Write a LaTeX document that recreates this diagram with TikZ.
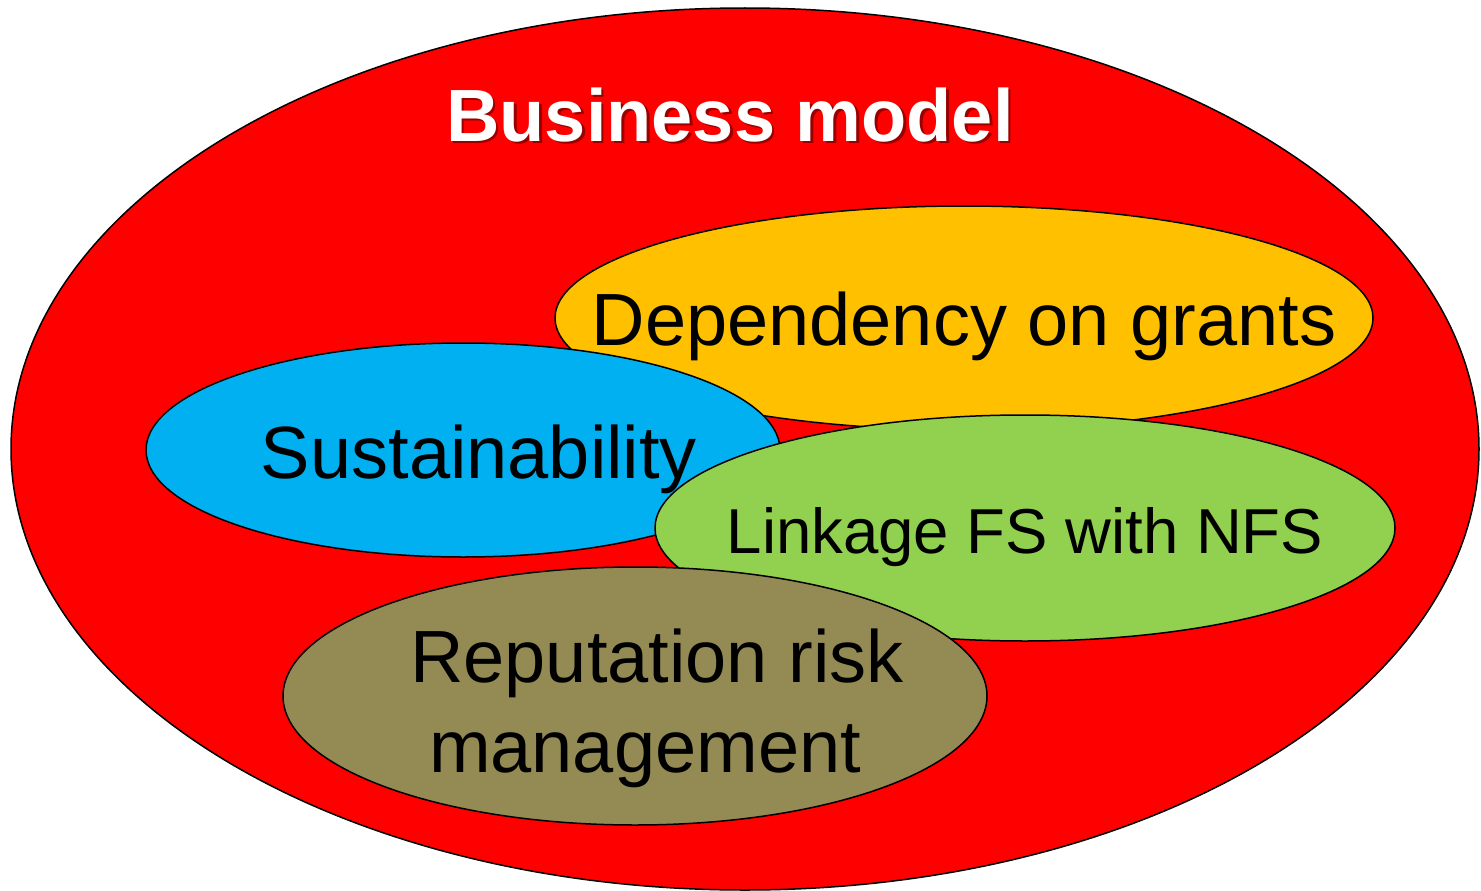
\documentclass[tikz,border=0pt]{standalone}
\usepackage{fontspec}
\setmainfont{Liberation Sans}
\usetikzlibrary{shapes.geometric}
\definecolor{bmred}{HTML}{FF0000}
\definecolor{grantorange}{HTML}{FFC000}
\definecolor{sustblue}{HTML}{00B0F0}
\definecolor{linkgreen}{HTML}{92D050}
\definecolor{repolive}{HTML}{948A54}
\colorlet{titleshadow}{bmred!60!black}
% title with a soft drop shadow set in the same box
\newcommand{\shadowedtitle}[1]{\rlap{\hspace{2.5pt}\raisebox{-2.5pt}{\textcolor{titleshadow}{#1}}}\textcolor{white}{#1}}
\begin{document}
\begin{tikzpicture}[x=1pt,y=-1pt,
  blob/.style={ellipse, draw=black, line width=1.5pt, inner sep=0pt},
  bigtext/.style={anchor=base, inner sep=0pt, font=\fontsize{74}{90}\selectfont},
  midtext/.style={anchor=base, inner sep=0pt, font=\fontsize{63.5}{76}\selectfont}]
\useasboundingbox (0,0) rectangle (1481,891);

% outer business model
\node[blob, fill=bmred, minimum width=1468pt, minimum height=882pt] (bm) at (745,449) {};
\node[bigtext, font=\fontsize{74}{90}\selectfont\bfseries] (bmtitle) at (730,141) {\shadowedtitle{Business model}};

% dependency on grants
\node[blob, fill=grantorange, minimum width=818pt, minimum height=224pt] (grants) at (964,318) {};
\node[bigtext] (grantstext) at (964,345) {Dependency on grants};

% sustainability
\node[blob, fill=sustblue, minimum width=634pt, minimum height=214pt] (sust) at (463,450) {};
\node[bigtext] (susttext) at (479,478) {Sustainability};

% linkage of financial and non-financial statements
\node[blob, fill=linkgreen, minimum width=740pt, minimum height=226pt] (link) at (1025,528) {};
\node[midtext] (linktext) at (1025,553) {Linkage FS with NFS};

% reputation risk management
\node[blob, fill=repolive, minimum width=704pt, minimum height=258pt] (rep) at (635,696) {};
\node[bigtext] (reptext1) at (657,682) {Reputation risk};
\node[bigtext] (reptext2) at (645,772) {management};
\end{tikzpicture}
\end{document}
